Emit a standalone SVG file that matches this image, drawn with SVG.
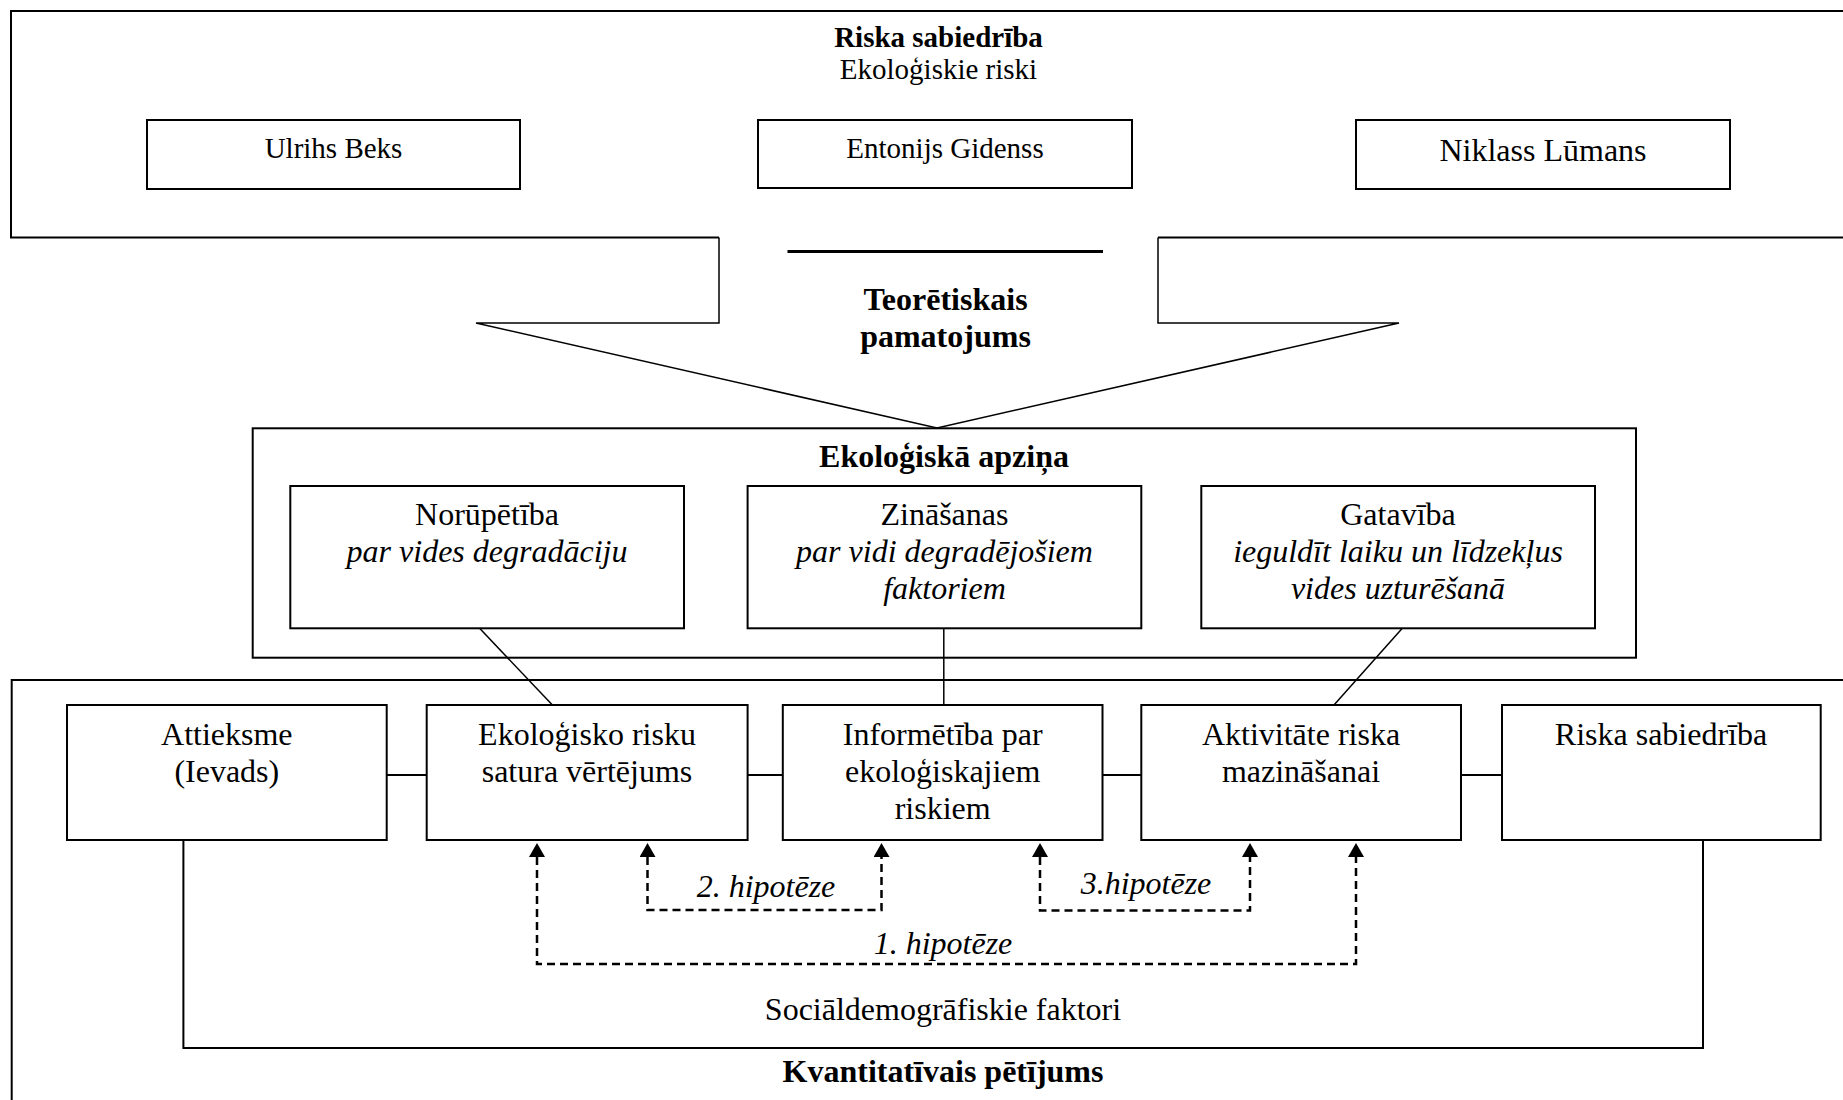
<svg xmlns="http://www.w3.org/2000/svg" width="1843" height="1100" viewBox="0 0 1843 1100">
<style>
.t{font-family:"Liberation Serif","Times New Roman",serif;font-size:32px;fill:#000;text-anchor:middle}
.s{font-size:29px}
.b{font-weight:bold}
.i{font-style:italic}
.box{fill:#fff;stroke:#000;stroke-width:2}
.ln{fill:none;stroke:#000;stroke-width:1.5}
.ds{fill:none;stroke:#000;stroke-width:2.5;stroke-dasharray:8 5}
</style>
<defs>
<marker id="arr" markerWidth="14" markerHeight="16" viewBox="0 0 14 16" refX="0" refY="8" orient="auto-start-reverse" markerUnits="userSpaceOnUse">
<path d="M0,0 L14,8 L0,16 Z" fill="#000"/>
</marker>
</defs>
<rect width="1843" height="1100" fill="#fff"/>

<g id="riska-sabiedriba-top">
<path class="ln" style="stroke-width:2" d="M1850,11 H11 V237.5 H719"/>
<path class="ln" style="stroke-width:2" d="M1158,237.5 H1850"/>
<text class="t s b" x="938.5" y="46.5">Riska sabiedrība</text>
<text class="t s" x="938.5" y="79">Ekoloģiskie riski</text>
</g>
<g id="ulrihs-beks">
<rect class="box" x="147" y="120" width="373" height="69"/>
<text class="t s" x="333.5" y="158">Ulrihs Beks</text>
</g>
<g id="entonijs-gidenss">
<rect class="box" x="758" y="120" width="374" height="68"/>
<text class="t s" x="945" y="158">Entonijs Gidenss</text>
</g>
<g id="niklass-lumans">
<rect class="box" x="1356" y="120" width="374" height="69"/>
<text class="t" x="1543" y="161">Niklass Lūmans</text>
</g>

<g id="teoretiskais-pamatojums">
<path class="ln" style="stroke-width:1.5" d="M719,237.5 V323 H476 L937,428 L1399,323 H1158 V237.5"/>
<line x1="787.5" y1="251.5" x2="1103" y2="251.5" stroke="#000" stroke-width="3"/>
<text class="t b" x="945.5" y="310">Teorētiskais</text>
<text class="t b" x="945.5" y="347">pamatojums</text>
</g>

<g id="ekologiska-apzina">
<rect class="box" x="252.7" y="428.3" width="1383.3" height="229.4"/>
<text class="t b" x="944" y="467">Ekoloģiskā apziņa</text>
</g>
<g id="norupetiba">
<rect class="box" x="290.3" y="486" width="393.7" height="142.3"/>
<text class="t" x="487" y="525">Norūpētība</text>
<text class="t i" x="487" y="562">par vides degradāciju</text>
</g>
<g id="zinasanas">
<rect class="box" x="747.6" y="486" width="393.7" height="142.3"/>
<text class="t" x="944.5" y="525">Zināšanas</text>
<text class="t i" x="944.5" y="562">par vidi degradējošiem</text>
<text class="t i" x="944.5" y="599">faktoriem</text>
</g>
<g id="gataviba">
<rect class="box" x="1201.3" y="486" width="393.7" height="142.3"/>
<text class="t" x="1398" y="525">Gatavība</text>
<text class="t i" x="1398" y="562">ieguldīt laiku un līdzekļus</text>
<text class="t i" x="1398" y="599">vides uzturēšanā</text>
</g>

<g id="kvantitativais-petijums">
<path class="ln" style="stroke-width:2" d="M1850,680 H11.7 V1110"/>
<text class="t b" x="943" y="1082">Kvantitatīvais pētījums</text>
<text class="t" x="943" y="1020">Sociāldemogrāfiskie faktori</text>
</g>
<g id="attieksme">
<rect class="box" x="67" y="705" width="319.7" height="135"/>
<text class="t" x="226.8" y="745">Attieksme</text>
<text class="t" x="226.8" y="782">(Ievads)</text>
</g>
<g id="ekologisko-risku">
<rect class="box" x="426.7" y="705" width="320.9" height="135"/>
<text class="t" x="587" y="745">Ekoloģisko risku</text>
<text class="t" x="587" y="782">satura vērtējums</text>
</g>
<g id="informetiba">
<rect class="box" x="782.8" y="705" width="319.7" height="135"/>
<text class="t" x="942.7" y="745">Informētība par</text>
<text class="t" x="942.7" y="782">ekoloģiskajiem</text>
<text class="t" x="942.7" y="819">riskiem</text>
</g>
<g id="aktivitate">
<rect class="box" x="1141.3" y="705" width="319.7" height="135"/>
<text class="t" x="1301" y="745">Aktivitāte riska</text>
<text class="t" x="1301" y="782">mazināšanai</text>
</g>
<g id="riska-sabiedriba">
<rect class="box" x="1502" y="705" width="318.7" height="135"/>
<text class="t" x="1661" y="745">Riska sabiedrība</text>
</g>

<g id="connectors">
<line class="ln" x1="479.6" y1="628.3" x2="552.4" y2="705"/>
<line class="ln" x1="943.8" y1="628.3" x2="943.8" y2="705"/>
<line class="ln" x1="1402.3" y1="628.3" x2="1334" y2="705"/>
<line class="ln" style="stroke-width:2" x1="386.7" y1="775" x2="426.7" y2="775"/>
<line class="ln" style="stroke-width:2" x1="747.6" y1="775" x2="782.8" y2="775"/>
<line class="ln" style="stroke-width:2" x1="1102.5" y1="775" x2="1141.3" y2="775"/>
<line class="ln" style="stroke-width:2" x1="1461" y1="775" x2="1502" y2="775"/>
<path class="ln" style="stroke-width:2" d="M183.4,840 V1048 H1703 V840"/>
<path class="ds" d="M537,857 V964 H1356 V857" marker-start="url(#arr)" marker-end="url(#arr)"/>
<path class="ds" d="M647.5,857 V910 H881.5 V857" marker-start="url(#arr)" marker-end="url(#arr)"/>
<path class="ds" d="M1040,857 V910.5 H1250 V857" marker-start="url(#arr)" marker-end="url(#arr)"/>
<text class="t i" x="766" y="897">2. hipotēze</text>
<text class="t i" x="1146" y="894">3.hipotēze</text>
<text class="t i" x="943" y="954">1. hipotēze</text>
</g>
</svg>
